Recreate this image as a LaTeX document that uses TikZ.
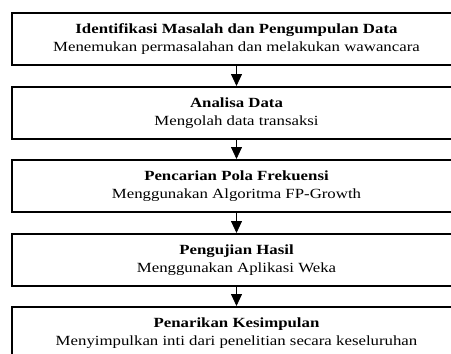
\documentclass[tikz,border=0pt]{standalone}
\usepackage{fontspec}
\setmainfont{Liberation Serif}[FakeStretch=1.2]
\usetikzlibrary{arrows.meta}
\begin{document}
\begin{tikzpicture}[x=1pt,y=-1pt,
  stepbox/.style={draw=black,line width=1.6pt,minimum width=449pt,minimum height=52pt,
    anchor=north,inner sep=0pt,align=center,font=\fontsize{14}{18}\selectfont},
  flowarrow/.style={line width=0.8pt,-{Triangle[width=11pt,length=12pt]}}]
\useasboundingbox (0,0) rectangle (451,354);
\node[stepbox] (s1) at (236.5,12) {\textbf{Identifikasi Masalah dan Pengumpulan Data}\\Menemukan permasalahan dan melakukan wawancara};
\node[stepbox] (s2) at (236.5,86) {\textbf{Analisa Data}\\Mengolah data transaksi};
\node[stepbox] (s3) at (236.5,159) {\textbf{Pencarian Pola Frekuensi}\\Menggunakan Algoritma FP-Growth};
\node[stepbox] (s4) at (236.5,233) {\textbf{Pengujian Hasil}\\Menggunakan Aplikasi Weka};
\node[stepbox] (s5) at (236.5,306) {\textbf{Penarikan Kesimpulan}\\Menyimpulkan inti dari penelitian secara keseluruhan};
\draw[flowarrow] (s1.south) -- (s2.north);
\draw[flowarrow] (s2.south) -- (s3.north);
\draw[flowarrow] (s3.south) -- (s4.north);
\draw[flowarrow] (s4.south) -- (s5.north);
\end{tikzpicture}
\end{document}
